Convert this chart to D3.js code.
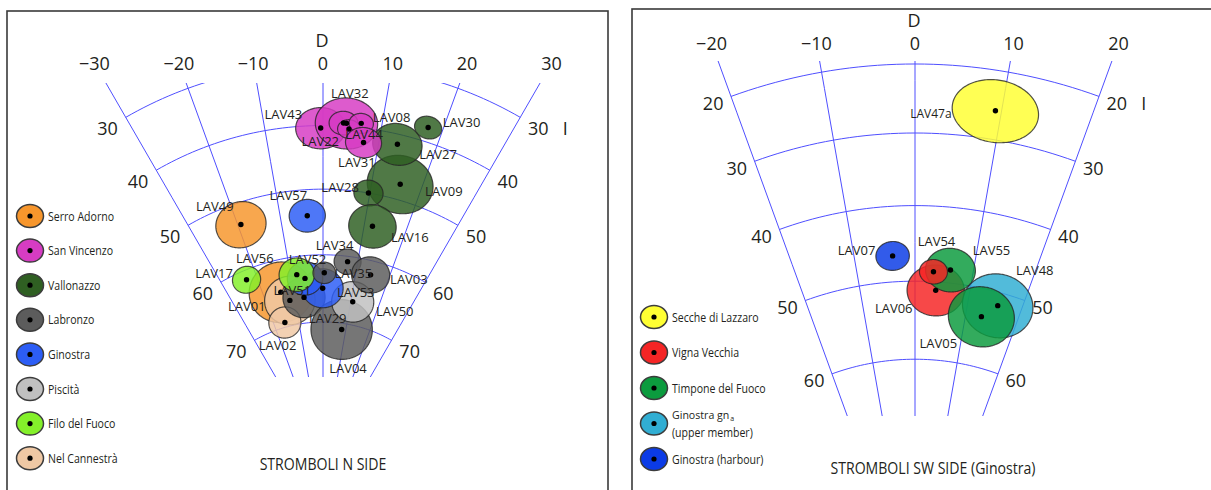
<!DOCTYPE html>
<html>
<head>
<meta charset="utf-8">
<script src="https://cdn.jsdelivr.net/npm/d3@7"></script>
<style>
  body { margin: 0; background: #fff; }
  svg text { font-family: "Open Sans", "Noto Sans", sans-serif; fill: #231f20; }
</style>
</head>
<body>
<svg id="chart" width="1211" height="490"></svg>
<script>
// ---------------- Stromboli N side: site mean directions ----------------
const nSites = ["LAV49","LAV01","LAV51","LAV02","LAV29","LAV04","LAV50","LAV53","LAV52","LAV56","LAV17","LAV35","LAV34","LAV03","LAV57",
                "LAV09","LAV27","LAV28","LAV16","LAV30","LAV43","LAV32","LAV22","LAV44","LAV08","LAV31"];
const nUnitIdx = [0,0,7,7,3,3,5,4,4,6,6,3,3,3,4, 2,2,2,2,2,1,1,1,1,1,1];
const nDec = [-19.3,-14.2,-11.8,-15.6,-6.7, 8.2,10.7,-0.1,-5.7,-8.1,-23.1, 0.4, 7.1,14.5,-3.7,
               15.7, 13.3, 9.7, 12.0, 17.6,-0.4, 4.0, 3.5, 4.5, 6.5, 7.3];
const nInc = [53.3, 64.8, 66.3, 69.3, 66.2, 70.9, 66.6, 65.0, 63.4, 62.7, 61.4, 62.7, 60.8, 62.1, 54.0,
               47.6, 41.6, 50.0, 54.9, 37.7, 40.4, 39.5, 39.5, 40.4, 39.3, 42.3];
const nA95 = [3.5, 4.5, 3.6, 2.3, 3.0, 4.4, 3.0, 2.9, 2.5, 2.5, 2.0, 1.6, 1.9, 2.7, 2.5,
               4.5, 3.3, 2.0, 3.3, 1.8, 3.3, 4.1, 1.9, 1.5, 1.6, 2.4];
const nUnits = ["Serro Adorno","San Vincenzo","Vallonazzo","Labronzo","Ginostra","Piscità","Filo del Fuoco","Nel Cannestrà"];
const nColors = ["#f7962c","#d63cc3","#2f5f22","#5c5c5c","#2c5df5","#c0c0c0","#84f02a","#efc8a4"];
const nDecTicks = [-30,-20,-10,0,10,20,30];
const nIncTicks = [30,40,50,60,70];

// ---------------- Stromboli SW side (Ginostra) ----------------
const sSites = ["LAV06","LAV55","LAV54","LAV48","LAV05","LAV07","LAV47a"];
const sUnitIdx = [1,2,1,3,2,4,0];
const sDec = [3.8, 6.1, 3.2, 15.6, 13.1, -3.7, 9.3];
const sInc = [51.1, 48.3, 48.7, 51.7, 53.6, 46.6, 25.9];
const sA95 = [3.3, 2.85, 1.6, 4.1, 3.85, 1.9, 4.5];
const sUnits = ["Secche di Lazzaro","Vigna Vecchia","Timpone del Fuoco","Ginostra gn_a|(upper member)","Ginostra (harbour)"];
const sColors = ["#ffff33","#f52525","#0c9b3e","#31aed3","#0b3be6"];
const sDecTicks = [-20,-10,0,10,20];
const sIncTicks = [20,30,40,50,60];

// ---------------- layout ----------------
// label placement relative to each projected site mean (pixels)
const labelShift = {
  LAV49:[-26,-18.5], LAV57:[-19,-20.7], LAV43:[-37.4,-14], LAV32:[3.3,-30], LAV22:[-23.3,18],
  LAV44:[15.2,4.9], LAV08:[30.3,-6.6], LAV31:[-6.6,19.3], LAV27:[40.6,10.2], LAV09:[43.7,7],
  LAV28:[-28.3,-5.7], LAV16:[37.3,10.7], LAV30:[33.4,-5.3], LAV17:[-32.5,-6.7], LAV56:[-42,-16.7],
  LAV52:[2.5,-19.6], LAV35:[29,0], LAV34:[-13,-16.7], LAV03:[38.3,3.7], LAV53:[33,3.7],
  LAV50:[42,9.5], LAV01:[-34,13.5], LAV51:[2.5,-10.7], LAV29:[23.7,21], LAV02:[-7.3,22.3],
  LAV04:[6.3,38.5],
  LAV47a:[-64.5,3], LAV07:[-36,-5.5], LAV54:[3,-30.7], LAV55:[41,-20.5], LAV48:[37,-35.7],
  LAV06:[-42,17.5], LAV05:[-43,26.2]
};

const svg = d3.select("#chart");
const defs = svg.append("defs");
const fmt = d3.format("d");

// squeeze text horizontally to a narrower face
function condense(sel, f) {
  sel.each(function () {
    const w = this.getComputedTextLength();
    d3.select(this).attr("textLength", w * f).attr("lengthAdjust", "spacingAndGlyphs");
  });
}

function drawPanel(cfg) {
  const g = svg.append("g");

  // frame
  g.append("rect").attr("x", cfg.frame[0]).attr("y", cfg.frame[1])
    .attr("width", cfg.frame[2]).attr("height", cfg.frame[3])
    .attr("fill", "none").attr("stroke", "#3a3a3a").attr("stroke-width", 1.6);

  // lower-hemisphere equal-area net: vertical-down at the centre, declination clockwise from up
  const proj = d3.geoAzimuthalEqualArea()
    .rotate([0, -90]).scale(cfg.scale).translate(cfg.center).precision(0.1);
  const path = d3.geoPath(proj);
  const geo = (D, I) => [180 - D, I];

  defs.append("clipPath").attr("id", cfg.id + "-clip").append("rect")
    .attr("x", cfg.clip[0]).attr("y", cfg.clip[1])
    .attr("width", cfg.clip[2] - cfg.clip[0]).attr("height", cfg.clip[3] - cfg.clip[1]);

  const grid = g.append("g").attr("clip-path", `url(#${cfg.id}-clip)`)
    .attr("fill", "none").attr("stroke", "#4f4fff").attr("stroke-width", 1);
  const dMin = d3.min(cfg.decTicks), dMax = d3.max(cfg.decTicks);

  cfg.decTicks.forEach(D => {
    grid.append("path")
      .datum({ type: "LineString", coordinates: [geo(D, 0), geo(D, 89.9)] })
      .attr("d", path);
  });
  cfg.incTicks.forEach(I => {
    grid.append("path")
      .datum({ type: "LineString", coordinates: d3.range(dMin, dMax + 0.01, 1).map(D => geo(D, I)) })
      .attr("d", path);
  });

  // declination labels along the top
  const c = proj(geo(0, 90));
  cfg.decTicks.forEach(D => {
    const p = proj(geo(D, 40));
    const t = (c[1] - cfg.decLabelY) / (c[1] - p[1]);
    const x = c[0] + (p[0] - c[0]) * t;
    g.append("text").attr("x", x).attr("y", cfg.decLabelY)
      .attr("text-anchor", "middle").attr("dominant-baseline", "central")
      .attr("font-size", 18).text(fmt(D));
  });
  g.append("text").attr("x", c[0] - 1).attr("y", cfg.decLabelY - 23)
    .attr("text-anchor", "middle").attr("dominant-baseline", "central")
    .attr("font-size", 18).text("D");

  // inclination labels at both ends of each arc
  cfg.incTicks.forEach(I => {
    [[dMin, -1], [dMax, 1]].forEach(([D, s]) => {
      const p0 = proj(geo(D, I)), p1 = proj(geo(D + s * 0.5, I));
      const ux = p1[0] - p0[0], uy = p1[1] - p0[1], n = Math.hypot(ux, uy);
      const x = p0[0] + ux / n * cfg.incLabelOff, y = p0[1] + uy / n * cfg.incLabelOff;
      g.append("text").attr("x", x).attr("y", y)
        .attr("text-anchor", "middle").attr("dominant-baseline", "central")
        .attr("font-size", 18).text(fmt(I));
      if (s > 0 && I === cfg.incTicks[0]) {
        g.append("text").attr("x", x + 27).attr("y", y)
          .attr("text-anchor", "middle").attr("dominant-baseline", "central")
          .attr("font-size", 18).text("I");
      }
    });
  });

  // alpha95 cones projected onto the net
  const sites = cfg.sites.map((name, i) => ({
    name, D: cfg.dec[i], I: cfg.inc[i], a95: cfg.a95[i], color: cfg.colors[cfg.unitIdx[i]]
  }));
  const marks = g.append("g");
  marks.selectAll("path.cone").data(sites).join("path")
    .attr("class", "cone")
    .attr("d", d => path(d3.geoCircle().center(geo(d.D, d.I)).radius(d.a95).precision(2)()))
    .attr("fill", d => d.color).attr("fill-opacity", 0.84)
    .attr("stroke", "#262626").attr("stroke-opacity", 0.8).attr("stroke-width", 1.2);
  marks.selectAll("circle.mean").data(sites).join("circle")
    .attr("class", "mean")
    .attr("cx", d => proj(geo(d.D, d.I))[0]).attr("cy", d => proj(geo(d.D, d.I))[1])
    .attr("r", 2.7).attr("fill", "#000");
  marks.selectAll("text.site").data(sites).join("text")
    .attr("class", "site")
    .attr("x", d => proj(geo(d.D, d.I))[0] + labelShift[d.name][0])
    .attr("y", d => proj(geo(d.D, d.I))[1] + labelShift[d.name][1])
    .attr("text-anchor", "middle").attr("dominant-baseline", "central")
    .attr("font-size", d => d.name.length > 5 ? 12 : 13)
    .text(d => d.name);

  // legend
  const lg = g.append("g");
  cfg.units.forEach((u, i) => {
    const y = cfg.legend.y0 + i * cfg.legend.dy;
    lg.append("ellipse").attr("cx", cfg.legend.x).attr("cy", y).attr("rx", 13.5).attr("ry", 11.5)
      .attr("fill", cfg.colors[i]).attr("stroke", "#3c3c3c").attr("stroke-width", 1.5);
    lg.append("circle").attr("cx", cfg.legend.x).attr("cy", y).attr("r", 2.6).attr("fill", "#000");
    const lines = u.split("|");
    lines.forEach((line, j) => {
      const ly = y + (j - (lines.length - 1) / 2) * 17;
      const x0 = cfg.legend.x + 18;
      const parts = line.split("_");
      const t = lg.append("text").attr("x", x0).attr("y", ly)
        .attr("dominant-baseline", "central").text(parts[0]);
      if (parts.length > 1) {
        // a run carrying a subscript keeps its natural advance
        t.attr("font-size", 10.6);
        const w = t.node().getComputedTextLength();
        lg.append("text").attr("x", x0 + w + 1).attr("y", ly + 3)
          .attr("dominant-baseline", "central").attr("font-size", 7).text(parts[1]);
      } else {
        t.attr("font-size", 12);
        condense(t, 0.88);
      }
    });
  });

  // panel title
  const title = g.append("text").attr("x", cfg.title.x).attr("y", cfg.title.y)
    .attr("text-anchor", "middle").attr("dominant-baseline", "central")
    .attr("font-size", 16).text(cfg.title.text);
  condense(title, 0.88);
}

drawPanel({
  id: "north",
  frame: [7, 11, 601, 500],
  center: [323, 459], scale: 394.5,
  clip: [7, 83, 608, 377],
  decTicks: nDecTicks, incTicks: nIncTicks,
  decLabelY: 63, incLabelOff: 21,
  sites: nSites, unitIdx: nUnitIdx, dec: nDec, inc: nInc, a95: nA95,
  units: nUnits, colors: nColors,
  legend: { x: 30, y0: 216, dy: 34.6 },
  title: { x: 323, y: 464, text: "STROMBOLI N SIDE" }
});

drawPanel({
  id: "south",
  frame: [632, 9, 600, 500],
  center: [915, 602], scale: 469,
  clip: [632, 61, 1211, 416],
  decTicks: sDecTicks, incTicks: sIncTicks,
  decLabelY: 43, incLabelOff: 19,
  sites: sSites, unitIdx: sUnitIdx, dec: sDec, inc: sInc, a95: sA95,
  units: sUnits, colors: sColors,
  legend: { x: 654, y0: 317, dy: 35.5 },
  title: { x: 933, y: 468, text: "STROMBOLI SW SIDE (Ginostra)" }
});
</script>
</body>
</html>
